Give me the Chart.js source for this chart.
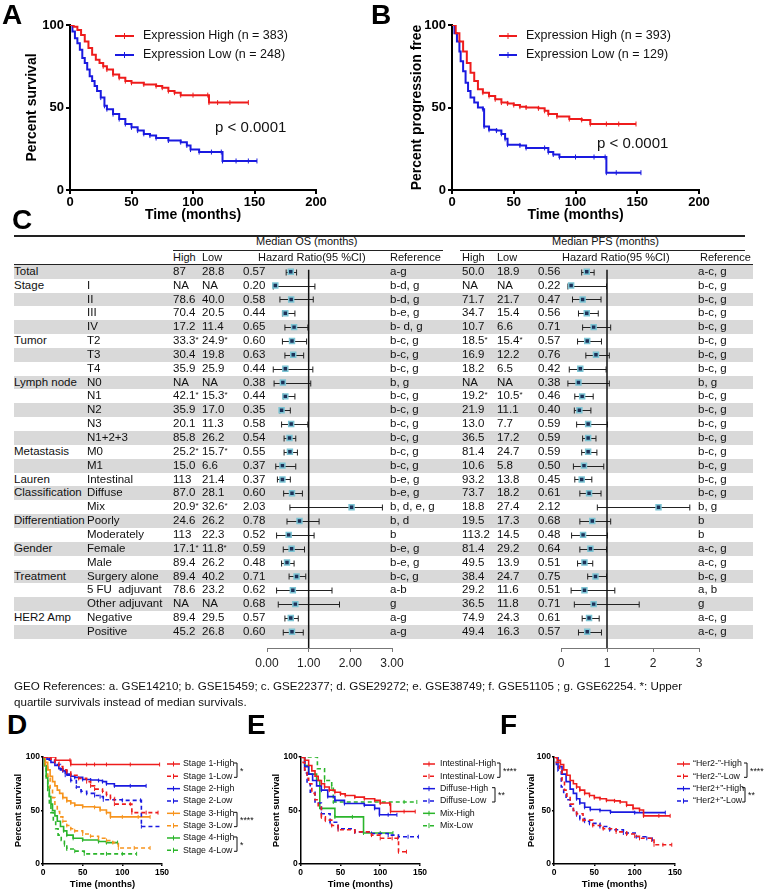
<!DOCTYPE html>
<html>
<head>
<meta charset="utf-8">
<script src="https://cdn.jsdelivr.net/npm/chart.js@4.4.1/dist/chart.umd.min.js"></script>
<style>
  body { margin: 0; background: #fff; }
  #fig { position: relative; width: 768px; height: 890px; overflow: hidden; font-family: "Liberation Sans", Arial, sans-serif; color: #111; }
  #fig canvas, #fig div { position: absolute; }
  .lab { font-weight: bold; font-size: 28px; line-height: 28px; color: #000; }
  .t { font-size: 11.5px; line-height: 13.85px; white-space: pre; }
  .h { font-size: 11px; line-height: 13.85px; white-space: pre; }
  .st { font-size: 8px; position: relative; top: -2px; }
  .pv { font-size: 15px; line-height: 18px; white-space: pre; }
  .foot { font-size: 11.6px; line-height: 15.5px; white-space: pre; }
</style>
</head>
<body>
<div id="fig"></div>
<script>
// ---------- survival curves: [months, percent] ----------
const osHighA = [[0,100],[3,99],[6,97],[9,94],[12,90],[15,86],[18,82],[21,79],[24,77],[27,75],[30,73],[35,70],[40,68],[45,66],[50,65],[60,64],[70,63],[75,62],[80,60],[85,59],[90,57.5],[100,57.5],[112,57.5],[113,53],[120,53],[130,53],[145,53]];
const osLowA = [[0,100],[2,96],[4,92],[6,89],[8,85],[10,80],[12,77],[14,73],[16,69],[18,66],[20,63],[22,60],[25,56],[28,51],[30,49],[35,46],[40,43],[45,40],[50,38],[55,36],[60,34],[65,33],[70,31.5],[80,30],[90,29],[95,27],[98,24.5],[105,23],[115,23],[123,23],[124,17.6],[135,17.6],[145,17.6],[152,17.6]];
const pfsHighB = [[0,100],[3,95],[6,90],[9,84],[12,77],[15,71],[18,66],[21,61],[25,59],[30,57],[35,55],[40,53],[45,52.5],[50,51.5],[55,50.5],[60,50],[70,49.5],[75,48],[78,46],[85,44.5],[95,43],[105,42.5],[112,40],[125,40],[135,40],[149,40]];
const pfsLowB = [[0,100],[2,95],[4,90],[6,84],[7,78],[9,72],[11,65],[13,60],[15,56],[18,53],[21,50],[25,49],[26,38.5],[30,36.5],[36,36],[40,34],[43,31],[45,27.5],[55,27],[60,25.5],[75,25.5],[78,23],[82,21.5],[87,20],[100,20],[115,20],[124,20],[125,10.5],[133,10.5],[153,10.5]];

const stage1High = [[0,100],[15,100],[16,97],[34,97],[35,93],[55,93],[65,93],[80,93],[110,93],[147,93]];
const stage1Low = [[0,100],[10,98],[15,95],[20,91],[25,88],[30,86],[35,83],[45,80],[55,77],[60,73],[65,70],[75,68],[80,65],[85,62],[90,56],[110,56],[112,48],[130,48],[145,48]];
const stage2High = [[0,100],[5,98],[10,95],[15,92],[20,89],[25,87],[30,84],[35,82],[40,81],[50,79],[60,78.5],[70,78],[75,77],[80,75],[90,73],[110,73],[130,73]];
const stage2Low = [[0,100],[8,97],[15,93],[22,88],[28,83],[35,78],[42,72],[48,68],[55,66],[65,64],[72,63],[76,60],[100,59.5],[123,59.5],[124,35],[151,35]];
const stage3High = [[0,100],[3,95],[6,88],[9,82],[12,77],[15,73],[18,69],[21,66],[25,62],[30,59],[35,57],[40,55],[50,53.5],[65,53],[72,50.5],[80,48],[85,44],[100,44],[120,44],[135,44]];
const stage3Low = [[0,100],[3,92],[6,80],[9,70],[12,62],[15,55],[18,49],[21,44],[25,40],[30,36],[35,33],[40,31],[50,28],[60,26],[70,24],[80,22],[88,20],[95,15],[115,15],[135,15]];
const stage4High = [[0,100],[2,92],[4,82],[6,72],[8,63],[10,56],[12,50],[15,45],[18,40],[22,35],[26,31],[30,27],[38,24],[50,22.5],[70,21],[80,20],[94,20]];
const stage4Low = [[0,100],[2,90],[4,78],[6,66],[8,56],[10,48],[13,40],[16,33],[19,27],[23,22],[27,18],[30,14],[40,12],[52,9.5],[80,9.5],[100,9.5],[118,9.5]];

const intestinalHigh = [[0,100],[5,97],[10,92],[14,87],[18,82],[22,78],[26,75],[30,72],[36,69],[43,67],[50,65.5],[56,64],[68,62.5],[80,61],[93,59.5],[100,57],[112,56],[113,49],[130,49],[144,49]];
const intestinalLow = [[0,100],[3,95],[5,88],[8,80],[10,75],[14,66],[18,60],[22,53],[26,44],[31,41],[39,36],[47,32],[68,30],[89,27],[100,24],[115,24],[122,24],[123,11.5],[133,11.5]];
const diffuseHigh = [[0,100],[5,91],[10,84],[15,78],[20,73],[26,69],[34,63],[43,59.5],[55,56.5],[80,55],[93,52],[99,46],[110,46],[121,46]];
const diffuseLow = [[0,100],[5,85],[8,75],[12,67],[18,57],[26,47],[37,39],[47,33],[68,30],[89,28.5],[110,27],[123,25.5],[135,25.5],[148,25.5]];
const mixHigh = [[0,100],[5,92],[10,84],[20,78],[24,52],[43,44],[65,44],[79,29],[100,29],[116,29]];
const mixLow = [[0,100],[20,100],[21,89],[30,78],[39,72],[41,58],[100,58],[130,58],[146,58]];

const her2NegHigh = [[0,100],[4,97],[8,93],[12,88],[16,83],[20,78],[24,75],[28,72],[32,69],[38,66],[44,64],[50,62],[57,61],[65,59.5],[75,59],[82,58],[90,55],[98,52],[106,50.5],[111,45],[130,45],[144,45]];
const her2NegLow = [[0,100],[3,95],[7,87],[10,78],[13,69],[16,62],[20,56],[24,50],[28,47],[36,41],[48,36],[61,33],[77,30],[90,28],[100,26],[106,24],[121,22.5],[124,18],[135,18],[146,18]];
const her2PosHigh = [[0,100],[5,91],[10,84],[15,77],[20,70],[24,66],[28,61],[32,57],[38,53],[45,51],[57,50],[70,48.5],[100,48],[138,48]];
const her2PosLow = [[0,100],[3,93],[5,87],[9,72],[12,65],[15,60],[20,54],[24,50],[28,46],[32,42.5],[38,40],[44,38],[57,35],[69,32],[86,29],[102,25.5],[115,24],[122,23]];

// ---------- table C ----------
const groupLabels = ['Total','Stage','','','','Tumor','','','Lymph node','','','','','Metastasis','','Lauren','Classification','','Differentiation','','Gender','','Treatment','','','HER2 Amp',''];
const subLabels = ['','I','II','III','IV','T2','T3','T4','N0','N1','N2','N3','N1+2+3','M0','M1','Intestinal','Diffuse','Mix','Poorly','Moderately','Female','Male','Surgery alone','5 FU  adjuvant','Other adjuvant','Negative','Positive'];

const osHigh = ['87','NA','78.6','70.4','17.2','33.3*','30.4','35.9','NA','42.1*','35.9','20.1','85.8','25.2*','15.0','113','87.0','20.9*','24.6','113','17.1*','89.4','89.4','78.6','NA','89.4','45.2'];
const osLow = ['28.8','NA','40.0','20.5','11.4','24.9*','19.8','25.9','NA','15.3*','17.0','11.3','26.2','15.7*','6.6','21.4','28.1','32.6*','26.2','22.3','11.8*','26.2','40.2','23.2','NA','29.5','26.8'];
const osHR = ['0.57','0.20','0.58','0.44','0.65','0.60','0.63','0.44','0.38','0.44','0.35','0.58','0.54','0.55','0.37','0.37','0.60','2.03','0.78','0.52','0.59','0.48','0.71','0.62','0.68','0.57','0.60'];
const osLo = [0.46,0.15,0.31,0.37,0.43,0.37,0.43,0.15,0.17,0.39,0.31,0.35,0.41,0.41,0.21,0.25,0.40,0.55,0.48,0.23,0.39,0.35,0.53,0.23,0.27,0.43,0.39];
const osHi = [0.71,1.15,1.11,0.67,0.98,0.95,0.88,1.10,1.05,0.67,0.56,0.98,0.69,0.73,0.69,0.56,0.85,2.77,1.25,1.13,0.90,0.65,0.93,1.56,1.74,0.75,0.87];
const osRef = ['a-g','b-d, g','b-d, g','b-e, g','b- d, g','b-c, g','b-c, g','b-c, g','b, g','b-c, g','b-c, g','b-c, g','b-c, g','b-c, g','b-c, g','b-e, g','b-e, g','b, d, e, g','b, d','b','b-e, g','b-e, g','b-c, g','a-b','g','a-g','a-g'];

const pfsHigh = ['50.0','NA','71.7','34.7','10.7','18.5*','16.9','18.2','NA','19.2*','21.9','13.0','36.5','81.4','10.6','93.2','73.7','18.8','19.5','113.2','81.4','49.5','38.4','29.2','36.5','74.9','49.4'];
const pfsLow = ['18.9','NA','21.7','15.4','6.6','15.4*','12.2','6.5','NA','10.5*','11.1','7.7','17.2','24.7','5.8','13.8','18.2','27.4','17.3','14.5','29.2','13.9','24.7','11.6','11.8','24.3','16.3'];
const pfsHR = ['0.56','0.22','0.47','0.56','0.71','0.57','0.76','0.42','0.38','0.46','0.40','0.59','0.59','0.59','0.50','0.45','0.61','2.12','0.68','0.48','0.64','0.51','0.75','0.51','0.71','0.61','0.57'];
const pfsLo = [0.45,0.15,0.25,0.38,0.47,0.36,0.54,0.18,0.15,0.30,0.29,0.34,0.47,0.45,0.27,0.30,0.41,0.79,0.41,0.23,0.41,0.36,0.58,0.22,0.29,0.46,0.38];
const pfsHi = [0.72,0.99,0.87,0.81,1.08,0.88,1.05,0.98,1.05,0.70,0.65,1.01,0.76,0.78,0.93,0.67,0.87,2.80,1.08,1.01,0.99,0.69,0.99,1.17,1.70,0.83,0.88];
const pfsRef = ['a-c, g','b-c, g','b-c, g','b-c, g','b-c, g','b-c, g','b-c, g','b-c, g','b, g','b-c, g','b-c, g','b-c, g','b-c, g','b-c, g','b-c, g','b-c, g','b-c, g','b, g','b','b','a-c, g','a-c, g','b-c, g','a, b','g','a-c, g','a-c, g'];

const osTickLabels = ['0.00','1.00','2.00','3.00'];
const pfsTickLabels = ['0','1','2','3'];

const RED = '#ee1c1c', BLUE = '#1a1ae0', ORANGE = '#f7941d', GREEN = '#2bb52b';
const FONT = '"Liberation Sans", Arial, sans-serif';
Chart.defaults.font.family = FONT;
Chart.defaults.color = '#000';

const fig = document.getElementById('fig');
function el(cls, x, y, html) {
  const d = document.createElement('div');
  if (cls) d.className = cls;
  d.style.left = x + 'px';
  d.style.top = y + 'px';
  if (html != null) d.innerHTML = html;
  fig.appendChild(d);
  return d;
}
function box(x, y, w, h, bg) {
  const d = el(null, x, y);
  d.style.width = w + 'px';
  d.style.height = h + 'px';
  d.style.background = bg;
}
function canvasAt(x, y, w, h) {
  const c = document.createElement('canvas');
  c.width = w; c.height = h;
  c.style.left = x + 'px';
  c.style.top = y + 'px';
  fig.appendChild(c);
  return c;
}
const star = s => s.replace('*', '<span class="st">*</span>');

// row shading and rules of the table
const ROW0 = 264.8, RH = 13.85;
subLabels.forEach((_, i) => { if (i % 2 === 0) box(14, ROW0 + RH * i, 739, RH, '#d9d9d9'); });
box(14, 235, 731, 1.5, '#222');
box(173, 249.5, 270, 1.3, '#222');
box(460, 249.5, 285, 1.3, '#222');
box(14, 263.5, 739, 1.3, '#222');

// ---------- legend plugin for the survival panels ----------
function makeLegend(o) {
  return {
    id: 'kmLegend',
    afterDatasetsDraw(chart) {
      const ctx = chart.ctx;
      ctx.save();
      chart.data.datasets.forEach((d, i) => {
        const y = o.y + i * o.step;
        ctx.strokeStyle = d.borderColor;
        ctx.lineWidth = o.lw;
        ctx.setLineDash(d.borderDash || []);
        ctx.beginPath(); ctx.moveTo(o.x, y); ctx.lineTo(o.x + o.len, y); ctx.stroke();
        ctx.setLineDash([]);
        ctx.lineWidth = 1;
        ctx.beginPath(); ctx.moveTo(o.x + o.len / 2, y - o.tick); ctx.lineTo(o.x + o.len / 2, y + o.tick); ctx.stroke();
        ctx.fillStyle = '#111';
        ctx.font = o.font;
        ctx.textBaseline = 'middle';
        ctx.textAlign = 'left';
        ctx.fillText(d.label, o.tx, y);
      });
      (o.brackets || []).forEach(([a, b, stars, bx]) => {
        const y1 = o.y + a * o.step - 1, y2 = o.y + b * o.step + 1;
        ctx.strokeStyle = '#111';
        ctx.lineWidth = 1;
        ctx.beginPath(); ctx.moveTo(bx - 3, y1); ctx.lineTo(bx, y1); ctx.lineTo(bx, y2); ctx.lineTo(bx - 3, y2); ctx.stroke();
        ctx.fillText(stars, bx + 3, (y1 + y2) / 2 + 1);
      });
      ctx.restore();
    }
  };
}

function km(x, y, w, h, series, o) {
  const c = canvasAt(x, y, w, h);
  const tickFont = { size: o.tf, weight: 'bold' };
  const titleFont = { size: o.tt, weight: 'bold' };
  const grid = { drawOnChartArea: false, tickLength: o.tl, color: '#000', lineWidth: o.aw };
  const border = { color: '#000', width: o.aw };
  return new Chart(c, {
    type: 'line',
    data: {
      datasets: series.map(s => ({
        label: s.label,
        data: s.pts.map(p => ({ x: p[0], y: p[1] })),
        borderColor: s.color,
        backgroundColor: s.color,
        borderDash: s.dash ? o.dash : [],
        borderWidth: o.lw,
        stepped: true,
        fill: false,
        pointStyle: 'line',
        pointRotation: 90,
        pointRadius: ctx => (ctx.raw && ctx.raw.x >= 25 ? o.pr : 0),
        pointBorderColor: s.color,
        pointBorderWidth: 1
      }))
    },
    options: {
      responsive: false,
      animation: false,
      events: [],
      layout: { padding: o.pad },
      plugins: { legend: { display: false }, tooltip: { enabled: false } },
      scales: {
        x: {
          type: 'linear', min: 0, max: o.xmax,
          ticks: { stepSize: 50, font: tickFont, padding: o.xpad, color: '#000' },
          grid, border,
          title: { display: true, text: 'Time (months)', font: titleFont, color: '#000', padding: { top: 0, bottom: o.xtp } },
          afterFit: s => { s.height = o.xh; }
        },
        y: {
          type: 'linear', min: 0, max: 100,
          ticks: { stepSize: 50, font: tickFont, padding: o.ypad, color: '#000' },
          grid, border,
          title: { display: true, text: o.ytitle, font: titleFont, color: '#000', padding: { top: o.ytp, bottom: 0 } },
          afterFit: s => { s.width = o.yw; }
        }
      }
    },
    plugins: [makeLegend(o.legend)]
  });
}

// ---------- forest plots ----------
function makeCI(lo, hi) {
  return {
    id: 'ciBars',
    beforeDatasetsDraw(chart) {
      const { ctx, scales: { x, y } } = chart;
      ctx.save();
      ctx.strokeStyle = '#222';
      ctx.lineWidth = 1;
      lo.forEach((l, i) => {
        const x0 = x.getPixelForValue(l), x1 = x.getPixelForValue(hi[i]);
        const py = Math.round(y.getPixelForValue(i)) + 0.5;
        ctx.beginPath();
        ctx.moveTo(x0, py); ctx.lineTo(x1, py);
        ctx.moveTo(x0, py - 3); ctx.lineTo(x0, py + 3);
        ctx.moveTo(x1, py - 3); ctx.lineTo(x1, py + 3);
        ctx.stroke();
      });
      ctx.restore();
    }
  };
}

function forest(left, width, hr, lo, hi, labels) {
  const c = canvasAt(left, 250, width, 430);
  const yMax = -0.5 + (648 - ROW0) / RH;
  return new Chart(c, {
    type: 'scatter',
    data: {
      datasets: [
        { data: hr.map((v, i) => ({ x: parseFloat(v), y: i })), pointStyle: 'rect', pointRadius: 3.5,
          backgroundColor: '#1c3158', borderColor: '#7cc4d4', borderWidth: 1.5 },
        { data: [{ x: 1, y: -0.15 }, { x: 1, y: yMax }], showLine: true, borderColor: '#111', borderWidth: 1.5, pointRadius: 0 }
      ]
    },
    options: {
      responsive: false,
      animation: false,
      events: [],
      layout: { padding: { left: 20, right: 20, top: ROW0 - 250, bottom: 0 } },
      plugins: { legend: { display: false }, tooltip: { enabled: false } },
      scales: {
        x: {
          type: 'linear', min: 0, max: 3,
          ticks: { stepSize: 1, font: { size: 12 }, color: '#222', padding: 4, callback: (v, i) => labels[i] },
          grid: { drawOnChartArea: false, tickLength: 4, color: '#777', lineWidth: 1 },
          border: { color: '#777', width: 1 },
          afterFit: s => { s.height = 32; }
        },
        y: { type: 'linear', display: false, min: -0.5, max: yMax, reverse: true }
      }
    },
    plugins: [makeCI(lo, hi)]
  });
}

// ---------- build charts ----------
const bigOpts = {
  xmax: 200, tf: 13, tt: 14, tl: 4, xpad: 1, ypad: 2, aw: 2, lw: 2, pr: 2.5, dash: [5, 3], xh: 40, xtp: 6.6
};
km(0, 0, 384, 230, [
  { label: 'Expression High (n = 383)', pts: osHighA, color: RED },
  { label: 'Expression Low (n = 248)', pts: osLowA, color: BLUE }
], Object.assign({}, bigOpts, {
  pad: { left: 0, right: 68, top: 25, bottom: 0 }, yw: 70, ytitle: 'Percent survival', ytp: 23.6,
  legend: { x: 115, len: 19, tx: 143, y: 36, step: 19, lw: 2, tick: 3, font: '12.5px ' + FONT }
}));
km(384, 0, 384, 230, [
  { label: 'Expression High (n = 393)', pts: pfsHighB, color: RED },
  { label: 'Expression Low (n = 129)', pts: pfsLowB, color: BLUE }
], Object.assign({}, bigOpts, {
  pad: { left: 0, right: 69, top: 25, bottom: 0 }, yw: 68, ytitle: 'Percent progression free', ytp: 24.6,
  legend: { x: 115, len: 18, tx: 142, y: 36, step: 19, lw: 2, tick: 3, font: '12.5px ' + FONT }
}));

const smallOpts = {
  xmax: 150, tf: 8.5, tt: 9.5, tl: 2, xpad: 2, ypad: 1, aw: 1.5, lw: 1.6, pr: 2, dash: [4, 3], xh: 26, xtp: 0.3,
  ytitle: 'Percent survival'
};
const smallLegend = { y: 19, step: 12.33, lw: 1.5, tick: 2.5, font: '8.8px ' + FONT };

km(0, 745, 262, 145, [
  { label: 'Stage 1-High', pts: stage1High, color: RED },
  { label: 'Stage 1-Low', pts: stage1Low, color: RED, dash: true },
  { label: 'Stage 2-High', pts: stage2High, color: BLUE },
  { label: 'Stage 2-Low', pts: stage2Low, color: BLUE, dash: true },
  { label: 'Stage 3-High', pts: stage3High, color: ORANGE },
  { label: 'Stage 3-Low', pts: stage3Low, color: ORANGE, dash: true },
  { label: 'Stage 4-High', pts: stage4High, color: GREEN },
  { label: 'Stage 4-Low', pts: stage4Low, color: GREEN, dash: true }
], Object.assign({}, smallOpts, {
  pad: { left: 0, right: 100, top: 12, bottom: 0 }, yw: 43, ytp: 12.3,
  legend: Object.assign({}, smallLegend, { x: 167, len: 13, tx: 183,
    brackets: [[0, 1, '*', 237], [4, 5, '****', 237], [6, 7, '*', 237]] })
}));

km(255, 745, 262, 145, [
  { label: 'Intestinal-High', pts: intestinalHigh, color: RED },
  { label: 'Intestinal-Low', pts: intestinalLow, color: RED, dash: true },
  { label: 'Diffuse-High', pts: diffuseHigh, color: BLUE },
  { label: 'Diffuse-Low', pts: diffuseLow, color: BLUE, dash: true },
  { label: 'Mix-High', pts: mixHigh, color: GREEN },
  { label: 'Mix-Low', pts: mixLow, color: GREEN, dash: true }
], Object.assign({}, smallOpts, {
  pad: { left: 0, right: 97, top: 12, bottom: 0 }, yw: 45.7, ytp: 15.3,
  legend: Object.assign({}, smallLegend, { x: 168, len: 12, tx: 185,
    brackets: [[0, 1, '****', 245], [2, 3, '**', 240]] })
}));

km(508, 745, 260, 145, [
  { label: '\u201cHer2-\u201d-High', pts: her2NegHigh, color: RED },
  { label: '\u201cHer2-\u201d-Low', pts: her2NegLow, color: RED, dash: true },
  { label: '\u201cHer2+\u201d-High', pts: her2PosHigh, color: BLUE },
  { label: '\u201cHer2+\u201d-Low', pts: her2PosLow, color: BLUE, dash: true }
], Object.assign({}, smallOpts, {
  pad: { left: 0, right: 93, top: 12, bottom: 0 }, yw: 46, ytp: 17.3,
  legend: Object.assign({}, smallLegend, { x: 169, len: 13, tx: 185,
    brackets: [[0, 1, '****', 239], [2, 3, '**', 237]] })
}));

forest(247, 165, osHR, osLo, osHi, osTickLabels);
forest(541, 178, pfsHR, pfsLo, pfsHi, pfsTickLabels);

// ---------- table text ----------
el('h', 256, 235, 'Median OS (months)');
el('h', 552, 235, 'Median PFS (months)');
[[173, 'High'], [202, 'Low'], [258, 'Hazard Ratio(95 %CI)'], [390, 'Reference'],
 [462, 'High'], [497, 'Low'], [562, 'Hazard Ratio(95 %CI)'], [700, 'Reference']]
  .forEach(([x, s]) => el('h', x, 250.8, s));

subLabels.forEach((sub, i) => {
  const y = ROW0 + RH * i;
  if (groupLabels[i]) el('t', 14, y, groupLabels[i]);
  if (sub) el('t', 87, y, sub);
  el('t', 173, y, star(osHigh[i]));
  el('t', 202, y, star(osLow[i]));
  el('t', 243, y, osHR[i]);
  el('t', 390, y, osRef[i]);
  el('t', 462, y, star(pfsHigh[i]));
  el('t', 497, y, star(pfsLow[i]));
  el('t', 538, y, pfsHR[i]);
  el('t', 698, y, pfsRef[i]);
});

el('foot', 14, 678, 'GEO References: a. GSE14210; b. GSE15459; c. GSE22377; d. GSE29272; e. GSE38749; f. GSE51105 ; g. GSE62254. *: Upper\nquartile survivals instead of median survivals.');

el('pv', 215, 118, 'p < 0.0001');
el('pv', 597, 134, 'p < 0.0001');

[['A', 2, 1], ['B', 371, 1], ['C', 12, 206], ['D', 7, 711], ['E', 247, 711], ['F', 500, 711]]
  .forEach(([s, x, y]) => el('lab', x, y, s));
</script>
</body>
</html>
